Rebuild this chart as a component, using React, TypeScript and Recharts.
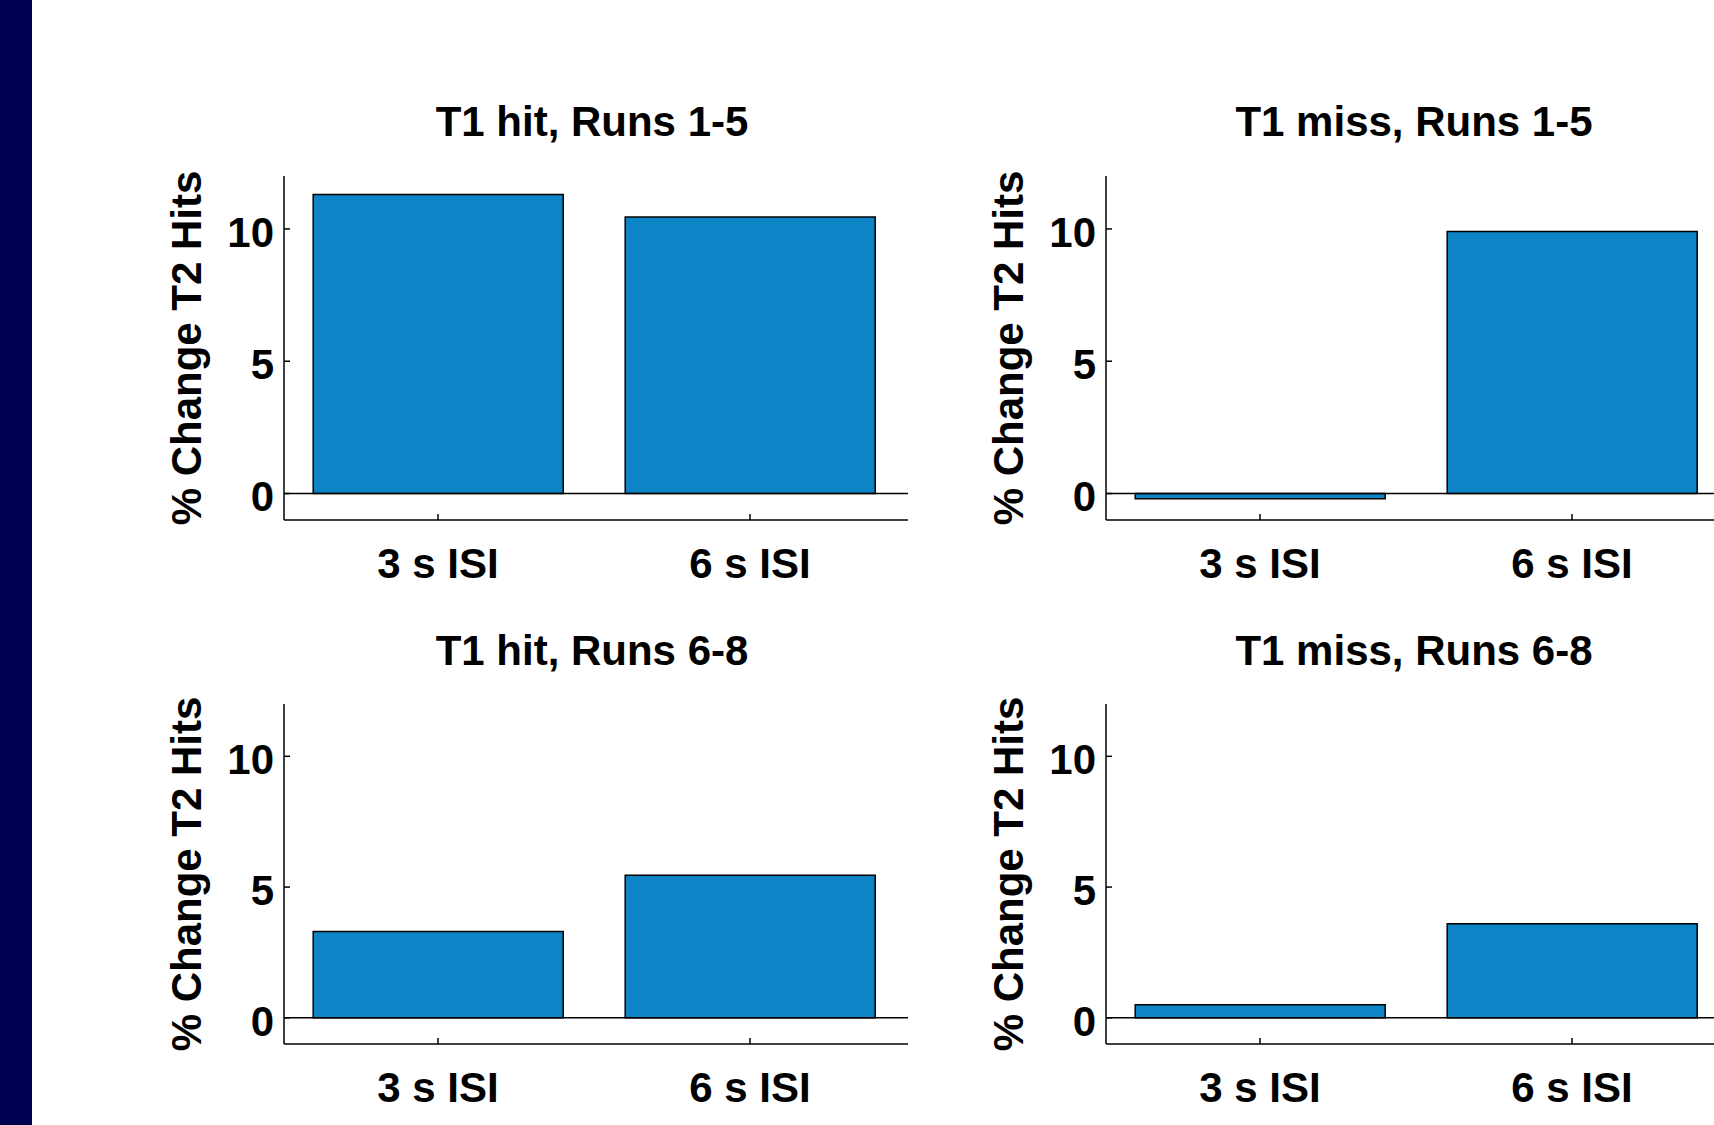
import { BarChart, Bar, XAxis, YAxis, ReferenceLine } from "recharts";

const categories = ["3 s ISI", "6 s ISI"];
const hitRuns1to5 = [11.3, 10.45];
const missRuns1to5 = [-0.2, 9.9];
const hitRuns6to8 = [3.3, 5.45];
const missRuns6to8 = [0.5, 3.6];
const yTicks = [0, 5, 10];
const yDomain = [-1, 12];

const FONT = "'Liberation Sans', Arial, Helvetica, sans-serif";
const BAR_COLOR = "#0C84C6";
const Y_AXIS_W = 130;
const PLOT_W = 624;
const TOP_PAD = 10;
const X_AXIS_H = 90;

interface PanelProps {
  title: string;
  values: number[];
  plotLeft: number;
  plotTop: number;
  plotHeight: number;
  titleBaseline: number;
}

function Panel({ title, values, plotLeft, plotTop, plotHeight, titleBaseline }: PanelProps) {
  const data = categories.map((c, i) => ({ name: c, value: values[i] }));
  const textStyle = { fontFamily: FONT, fontWeight: "bold" as const, fontSize: 42, fill: "#000" };

  return (
    <>
      <div
        style={{
          position: "absolute",
          left: plotLeft - 4,
          top: titleBaseline - 35.6,
          width: PLOT_W,
          textAlign: "center",
          fontFamily: FONT,
          fontWeight: "bold",
          fontSize: 42,
          lineHeight: "42px",
          color: "#000",
          whiteSpace: "nowrap",
        }}
      >
        {title}
      </div>
      <div style={{ position: "absolute", left: plotLeft - Y_AXIS_W, top: plotTop - TOP_PAD }}>
        <BarChart
          width={Y_AXIS_W + PLOT_W + 20}
          height={TOP_PAD + plotHeight + X_AXIS_H}
          data={data}
          margin={{ top: TOP_PAD, right: 20, bottom: 0, left: 0 }}
          barCategoryGap="10%"
        >
          <XAxis
            dataKey="name"
            height={X_AXIS_H}
            stroke="#000"
            padding={{ left: -2, right: 2 }}
            axisLine={{ stroke: "#000", strokeWidth: 1.5 }}
            tickLine={{ stroke: "#000", strokeWidth: 1.5 }}
            tickSize={-6}
            tickMargin={34}
            tick={textStyle}
          />
          <YAxis
            type="number"
            domain={yDomain}
            ticks={yTicks}
            allowDataOverflow
            width={Y_AXIS_W}
            stroke="#000"
            axisLine={{ stroke: "#000", strokeWidth: 1.5 }}
            tickLine={{ stroke: "#000", strokeWidth: 1.5 }}
            tickSize={-6}
            tickMargin={16}
            tick={{ ...textStyle, dy: 3 }}
            label={{
              value: "% Change T2 Hits",
              angle: -90,
              position: "insideLeft",
              offset: 32,
              style: { ...textStyle, textAnchor: "middle" },
            }}
          />
          <Bar
            dataKey="value"
            fill={BAR_COLOR}
            stroke="#000"
            strokeWidth={1.5}
            isAnimationActive={false}
          />
          <ReferenceLine y={0} stroke="#000" strokeWidth={1.5} />
        </BarChart>
      </div>
    </>
  );
}

export default function App() {
  return (
    <div
      style={{
        position: "absolute",
        left: 0,
        top: 0,
        width: 1714,
        height: 1125,
        overflow: "hidden",
        background: "#fff",
      }}
    >
      <div style={{ position: "absolute", left: 0, top: 0, width: 32, height: 1125, background: "#000050" }} />
      <Panel title="T1 hit, Runs 1-5" values={hitRuns1to5} plotLeft={284} plotTop={176} plotHeight={344} titleBaseline={137} />
      <Panel title="T1 miss, Runs 1-5" values={missRuns1to5} plotLeft={1106} plotTop={176} plotHeight={344} titleBaseline={137} />
      <Panel title="T1 hit, Runs 6-8" values={hitRuns6to8} plotLeft={284} plotTop={704} plotHeight={340} titleBaseline={666} />
      <Panel title="T1 miss, Runs 6-8" values={missRuns6to8} plotLeft={1106} plotTop={704} plotHeight={340} titleBaseline={666} />
    </div>
  );
}
